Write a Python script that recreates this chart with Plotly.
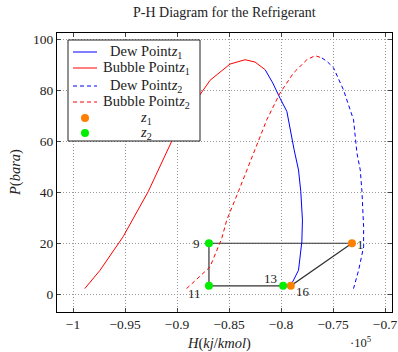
import plotly.graph_objects as go

# Data (H in units of 1e5 kJ/kmol, P in bara)
dew_z1_h = [-0.8153, -0.808, -0.801, -0.7944, -0.7874, -0.7832, -0.781, -0.7794, -0.780, -0.7832, -0.7896, -0.7907]
dew_z1_p = [88.2, 83.0, 77.0, 71.8, 56.7, 48.8, 40.3, 29.1, 20.6, 9.4, 4.2, 3.3]

bub_z1_h = [-0.9887, -0.974, -0.9518, -0.9277, -0.9052, -0.878, -0.8683, -0.849, -0.8346, -0.825, -0.8153]
bub_z1_p = [2.2, 9.4, 22.6, 40.3, 60.0, 78.3, 84.0, 90.4, 92.1, 91.2, 88.2]

dew_z2_h = [-0.7607, -0.7559, -0.7495, -0.74, -0.7303, -0.727, -0.7238, -0.7222, -0.7206, -0.7206, -0.7254, -0.7303]
dew_z2_p = [92.8, 91.5, 88.9, 80.3, 68.5, 55.4, 48.8, 40.3, 26.5, 18.6, 9.4, 2.2]

bub_z2_h = [-0.8908, -0.8683, -0.857, -0.8522, -0.841, -0.833, -0.8266, -0.8137, -0.801, -0.788, -0.7752, -0.7672, -0.7607]
bub_z2_p = [2.2, 10.7, 21.9, 29.1, 40.3, 48.8, 55.4, 68.5, 79.0, 86.9, 92.1, 93.7, 92.8]

z1_labels = ["1", "16"]
z1_h = [-0.7318, -0.7906]
z1_p = [20.0, 3.3]

z2_labels = ["9", "11", "13"]
z2_h = [-0.8693, -0.8693, -0.798]
z2_p = [20.0, 3.3, 3.3]

cycle_h = [-0.8693, -0.7318, -0.7906, -0.8693, -0.8693]
cycle_p = [20.0, 20.0, 3.3, 3.3, 20.0]

x_ticks = [-1.0, -0.95, -0.9, -0.85, -0.8, -0.75, -0.7]
y_ticks = [0, 20, 40, 60, 80, 100]

legend_names = ["Dew Point<i>z</i><sub>1</sub>", "Bubble Point<i>z</i><sub>1</sub>",
                "Dew Point<i>z</i><sub>2</sub>", "Bubble Point<i>z</i><sub>2</sub>",
                "<i>z</i><sub>1</sub>", "<i>z</i><sub>2</sub>"]

FONT = "Liberation Serif"
TXT = "#222222"
BLUE, RED, ORANGE, GREEN = "#0000ff", "#ff0000", "#ff8000", "#00ee00"

W, H = 398, 352
L, R, T, B = 57, 6, 33, 40
pw, ph = W - L - R, H - T - B


def px(xp):
    return (xp - L) / pw


def py(yp):
    return (H - B - yp) / ph


fig = go.Figure()
fig.add_trace(go.Scatter(x=cycle_h, y=cycle_p, mode="lines", line=dict(color="#333333", width=1.2),
                         showlegend=False, hoverinfo="skip"))
fig.add_trace(go.Scatter(x=dew_z1_h, y=dew_z1_p, mode="lines", line=dict(color=BLUE, width=1),
                         name=legend_names[0], showlegend=False))
fig.add_trace(go.Scatter(x=bub_z1_h, y=bub_z1_p, mode="lines", line=dict(color=RED, width=1),
                         name=legend_names[1], showlegend=False))
fig.add_trace(go.Scatter(x=dew_z2_h, y=dew_z2_p, mode="lines", line=dict(color=BLUE, width=1, dash="4px,3px"),
                         name=legend_names[2], showlegend=False))
fig.add_trace(go.Scatter(x=bub_z2_h, y=bub_z2_p, mode="lines", line=dict(color=RED, width=1, dash="4px,3px"),
                         name=legend_names[3], showlegend=False))
fig.add_trace(go.Scatter(x=z1_h, y=z1_p, mode="markers", marker=dict(color=ORANGE, size=8),
                         name=legend_names[4], showlegend=False))
fig.add_trace(go.Scatter(x=z2_h, y=z2_p, mode="markers", marker=dict(color=GREEN, size=8),
                         name=legend_names[5], showlegend=False))

# ---- hand-drawn legend on an invisible overlay axis in pixel units ----
box_x = [68, 200, 200, 68, 68]
box_y = [40, 40, 141, 141, 40]
fig.add_trace(go.Scatter(x=box_x, y=box_y, xaxis="x2", yaxis="y2", mode="lines", fill="toself",
                         fillcolor="white", line=dict(color="#222", width=1), showlegend=False,
                         hoverinfo="skip"))
row_y = [52, 68, 86, 102, 118, 133]
styles = [(BLUE, "solid"), (RED, "solid"), (BLUE, "4px,3px"), (RED, "4px,3px")]
for i in range(4):
    c, d = styles[i]
    fig.add_trace(go.Scatter(x=[73, 97], y=[row_y[i], row_y[i]], xaxis="x2", yaxis="y2", mode="lines",
                             line=dict(color=c, width=1, dash=d), showlegend=False, hoverinfo="skip"))
fig.add_trace(go.Scatter(x=[85, 85], y=[row_y[4], row_y[5]], xaxis="x2", yaxis="y2", mode="markers",
                         marker=dict(color=[ORANGE, GREEN], size=8), showlegend=False, hoverinfo="skip"))
for i, name in enumerate(legend_names):
    fig.add_annotation(xref="paper", yref="paper", x=px(146), y=py(row_y[i]), text=name, showarrow=False,
                       xanchor="center", yanchor="middle", font=dict(family=FONT, size=14.5, color=TXT))

# point labels
offsets = {"1": (9, -1), "16": (12, -6), "9": (-12, 0), "11": (-14, -8), "13": (-13, 7)}
for lab, h, p in list(zip(z1_labels, z1_h, z1_p)) + list(zip(z2_labels, z2_h, z2_p)):
    dx, dy = offsets[lab]
    fig.add_annotation(x=h, y=p, text=lab, showarrow=False, xshift=dx, yshift=dy,
                       font=dict(family=FONT, size=13, color=TXT))

# titles
fig.add_annotation(xref="paper", yref="paper", x=px(224), y=py(13), text="P-H Diagram for the Refrigerant",
                   showarrow=False, xanchor="center", yanchor="middle",
                   font=dict(family=FONT, size=14, color=TXT))
fig.add_annotation(xref="paper", yref="paper", x=px(219), y=py(343), text="<i>H</i>(<i>kj</i>/<i>kmol</i>)",
                   showarrow=False, xanchor="center", yanchor="middle",
                   font=dict(family=FONT, size=14.5, color=TXT))
fig.add_annotation(xref="paper", yref="paper", x=px(15), y=py(173), text="<i>P</i>(<i>bara</i>)",
                   showarrow=False, xanchor="center", yanchor="middle", textangle=-90,
                   font=dict(family=FONT, size=14.5, color=TXT))
fig.add_annotation(xref="paper", yref="paper", x=px(361), y=py(342), text="·10<sup>5</sup>",
                   showarrow=False, xanchor="center", yanchor="middle",
                   font=dict(family=FONT, size=12.5, color=TXT))

axis_common = dict(showline=True, linecolor="black", linewidth=1, mirror="allticks", ticks="inside",
                   ticklen=4, tickcolor="#444", showgrid=True, gridcolor="#999999", griddash="1px,2px",
                   gridwidth=1, zeroline=False, automargin=False,
                   tickfont=dict(family=FONT, size=13.5, color=TXT))

fig.update_layout(
    width=W, height=H,
    margin=dict(l=L, r=R, t=T, b=B, autoexpand=False),
    paper_bgcolor="white", plot_bgcolor="white",
    xaxis=dict(range=[-1.0154, -0.6933], tickvals=x_ticks,
               ticktext=[f"\u2212{abs(v):g}" for v in x_ticks], **axis_common),
    yaxis=dict(range=[-7.0, 102.6], tickvals=y_ticks, **axis_common),
    xaxis2=dict(overlaying="x", range=[L, W - R], visible=False, fixedrange=True),
    yaxis2=dict(overlaying="y", range=[H - B, T], visible=False, fixedrange=True),
    showlegend=False,
    hovermode=False,
)

fig.write_html("out.html", config={"displayModeBar": False},
               post_script="document.body.style.margin='0';")
